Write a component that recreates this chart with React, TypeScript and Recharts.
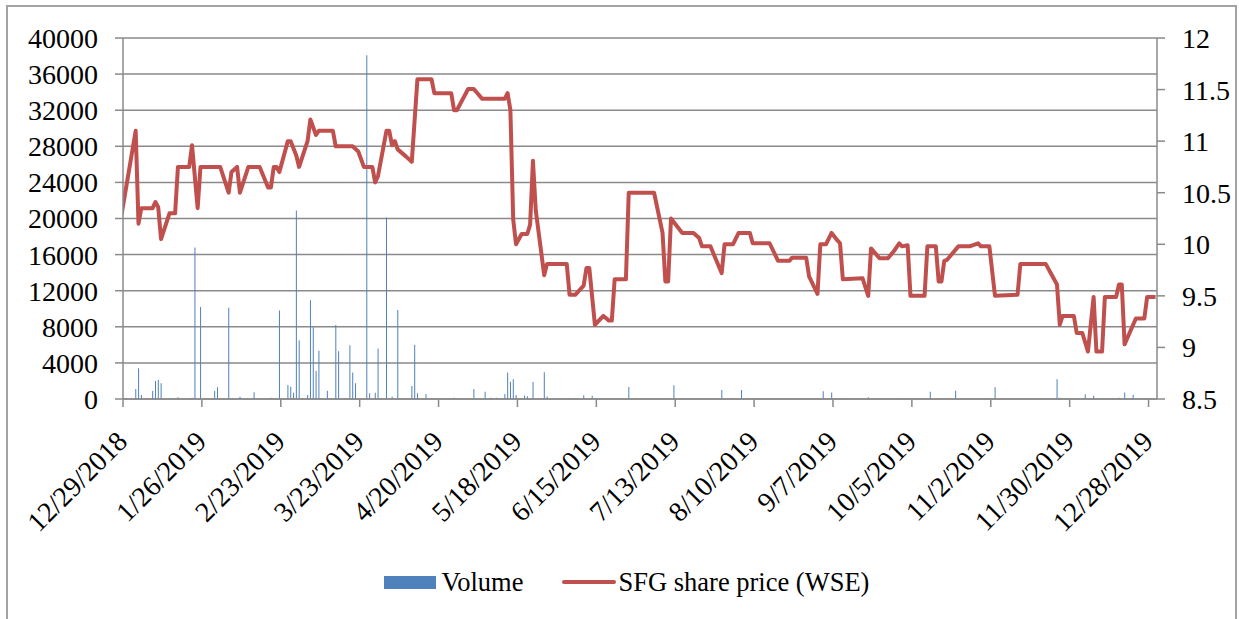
import { ComposedChart, Bar, Line, XAxis, YAxis, CartesianGrid, Legend } from "recharts";

// day index: 0 = 12/29/2018
const PRICE: [number, number][] = [
  [-1, 10.29], [4, 11.1], [5, 10.2], [6, 10.35], [10, 10.35], [11, 10.41], [12, 10.36], [13, 10.05],
  [16, 10.3], [18, 10.3], [19, 10.75], [23, 10.75], [24, 10.96], [26, 10.35], [27, 10.75], [34, 10.75],
  [37, 10.5], [38, 10.7], [40, 10.75], [41, 10.5], [44, 10.75], [48, 10.75], [51, 10.55], [52, 10.55],
  [53, 10.75], [54, 10.75], [55, 10.7], [58, 11.0], [59, 11.0], [61, 10.86], [62, 10.75], [65, 11.0],
  [66, 11.21], [68, 11.06], [69, 11.1], [74, 11.1], [75, 10.95], [81, 10.95], [83, 10.9], [85, 10.75],
  [88, 10.75], [89, 10.6], [90, 10.66], [93, 11.1], [94, 11.1], [95, 10.96], [96, 11.0], [97, 10.92],
  [100, 10.85], [102, 10.8], [104, 11.6], [109, 11.6], [110, 11.465], [116, 11.465], [117, 11.3],
  [118, 11.3], [122, 11.505], [124, 11.505], [127, 11.41], [135, 11.41], [136, 11.465], [137, 11.3],
  [138, 10.24], [139, 10.0], [141, 10.1], [143, 10.1], [144, 10.19], [145, 10.81], [146, 10.33],
  [149, 9.7], [150, 9.81], [157, 9.81], [158, 9.51], [160, 9.51], [163, 9.6], [164, 9.77], [165, 9.77],
  [167, 9.22], [170, 9.305], [172, 9.26], [173, 9.26], [174, 9.66], [178, 9.66], [179, 10.5], [188, 10.5],
  [191, 10.11], [192, 9.64], [193, 9.64], [194, 10.25], [198, 10.11], [202, 10.11], [204, 10.06],
  [205, 9.98], [208, 9.98], [212, 9.72], [213, 10.0], [216, 10.0], [218, 10.11], [222, 10.11],
  [223, 10.01], [229, 10.01], [232, 9.84], [236, 9.84], [237, 9.87], [242, 9.87], [243, 9.69],
  [246, 9.52], [247, 10.0], [249, 10.0], [251, 10.11], [253, 10.04], [254, 10.01], [255, 9.66],
  [262, 9.67], [264, 9.5], [265, 9.96], [268, 9.865], [271, 9.865], [273, 9.93], [275, 10.01],
  [276, 9.98], [278, 9.99], [279, 9.5], [284, 9.5], [285, 9.98], [288, 9.98], [289, 9.64], [290, 9.64],
  [291, 9.84], [292, 9.85], [296, 9.98], [300, 9.98], [303, 10.01], [304, 9.98], [307, 9.98], [309, 9.5],
  [317, 9.51], [318, 9.81], [327, 9.81], [331, 9.61], [332, 9.22], [333, 9.305], [337, 9.305],
  [338, 9.14], [340, 9.14], [342, 8.96], [344, 9.49], [345, 8.96], [347, 8.96], [348, 9.49], [352, 9.49],
  [353, 9.61], [354, 9.61], [355, 9.03], [359, 9.28], [362, 9.28], [363, 9.49], [366, 9.49],
];

const VOLUME: [number, number][] = [
  [4, 1100], [5, 3400], [6, 440], [10, 890], [11, 2000], [12, 2100], [13, 1740], [19, 200], [24, 150],
  [25, 16800], [27, 10200], [32, 890], [33, 1300], [37, 10100], [41, 250], [46, 740], [52, 150],
  [55, 9800], [58, 1550], [59, 1370], [60, 700], [61, 20900], [62, 6500], [65, 440], [66, 10950],
  [67, 7950], [68, 3100], [69, 5350], [72, 920], [75, 8200], [76, 5300], [80, 5950], [81, 2950],
  [82, 1740], [86, 38100], [87, 630], [89, 700], [90, 5600], [93, 20100], [95, 260], [97, 9850],
  [102, 1440], [103, 6000], [104, 630], [107, 550], [117, 150], [124, 1110], [128, 810], [130, 150],
  [132, 150], [135, 550], [136, 2950], [137, 1900], [138, 2200], [139, 440], [142, 380], [143, 300],
  [145, 1870], [149, 2970], [150, 280], [158, 100], [160, 100], [163, 420], [166, 360], [179, 1320],
  [195, 1530], [212, 1000], [219, 1000], [248, 870], [251, 720], [256, 100], [264, 200], [276, 100],
  [286, 810], [295, 910], [309, 1290], [331, 2180], [332, 150], [341, 540], [344, 370], [351, 100],
  [353, 150], [355, 720], [358, 460],
];

const TICKS = [0, 28, 56, 84, 112, 140, 168, 196, 224, 252, 280, 308, 336, 364];
const TICK_LABELS = [
  "12/29/2018", "1/26/2019", "2/23/2019", "3/23/2019", "4/20/2019", "5/18/2019", "6/15/2019",
  "7/13/2019", "8/10/2019", "9/7/2019", "10/5/2019", "11/2/2019", "11/30/2019", "12/28/2019",
];
const VOL_TICKS = [0, 4000, 8000, 12000, 16000, 20000, 24000, 28000, 32000, 36000, 40000];
const PRICE_TICKS = [8.5, 9, 9.5, 10, 10.5, 11, 11.5, 12];

const BLUE = "#4f81bd";
const RED = "#c0504d";
const GRID = "#8a8a8a";
const SERIF = "'Liberation Serif', 'Times New Roman', serif";

const priceMap = new Map(PRICE);
const volMap = new Map(VOLUME);
const days = Array.from(new Set([...PRICE.map((p) => p[0]), ...VOLUME.map((v) => v[0])])).sort((a, b) => a - b);
// each day sits in the middle of its slot
const data = days.map((d) => ({
  x: d + 0.5,
  price: priceMap.has(d) ? priceMap.get(d) : null,
  volume: volMap.has(d) ? volMap.get(d) : null,
}));

const DateTick = (props: any) => {
  const { x, y, payload } = props;
  const ax = x + 6;
  const ay = y + 34;
  return (
    <text x={ax} y={ay} textAnchor="end" transform={`rotate(-45, ${ax}, ${ay})`}
      fontFamily={SERIF} fontSize={28} fill="#000">
      {TICK_LABELS[TICKS.indexOf(payload.value)]}
    </text>
  );
};

const LegendContent = (props: any) => {
  // bars first, like the original legend
  const items = [...(props.payload || [])].sort((a: any, b: any) => (a.type === "line" ? 1 : 0) - (b.type === "line" ? 1 : 0));
  return (
    <div style={{ display: "flex", justifyContent: "center", alignItems: "center", height: 40,
      fontFamily: SERIF, fontSize: 26.5, color: "#000", paddingLeft: 14 }}>
      {items.map((it: any, i: number) => (
        <div key={i} style={{ display: "flex", alignItems: "center", marginLeft: i > 0 ? 38 : 0 }}>
          {it.type === "line" ? (
            <span style={{ display: "inline-block", width: 54, height: 4.5, borderRadius: 2, background: RED, marginRight: 3 }} />
          ) : (
            <span style={{ display: "inline-block", width: 52, height: 13, background: BLUE, marginRight: 6 }} />
          )}
          <span>{it.value}</span>
        </div>
      ))}
    </div>
  );
};

export default function App() {
  return (
    <div style={{ position: "absolute", left: 0, top: 0, width: 1239, height: 619, overflow: "hidden", background: "#fff" }}>
      <div style={{ position: "absolute", left: 6, top: 5, width: 1231, height: 660, border: "2px solid #a3a3a3", boxSizing: "border-box" }} />
      <div style={{ position: "absolute", left: 0, top: 0 }}>
        <ComposedChart width={1239} height={619} data={data} margin={{ top: 38, right: 0, bottom: 60, left: 0 }}>
          <CartesianGrid yAxisId="vol" vertical={false} stroke={GRID} strokeWidth={1.5} />
          <XAxis dataKey="x" type="number" domain={[0, 367]} allowDataOverflow ticks={TICKS} interval={0}
            height={120} tickSize={8} tick={<DateTick />}
            axisLine={{ stroke: GRID, strokeWidth: 1.5 }} tickLine={{ stroke: GRID, strokeWidth: 1.5 }} />
          <YAxis yAxisId="vol" orientation="left" width={123} domain={[0, 40000]} ticks={VOL_TICKS} interval={0}
            tickSize={8} tickMargin={17} tick={{ fill: "#000", fontSize: 28, fontFamily: SERIF }}
            axisLine={{ stroke: GRID, strokeWidth: 1.5 }} tickLine={{ stroke: GRID, strokeWidth: 1.5 }} />
          <YAxis yAxisId="price" orientation="right" width={82} domain={[8.5, 12]} ticks={PRICE_TICKS} interval={0}
            tickSize={8} tickMargin={17} tick={{ fill: "#000", fontSize: 28, fontFamily: SERIF }}
            axisLine={{ stroke: GRID, strokeWidth: 1.5 }} tickLine={{ stroke: GRID, strokeWidth: 1.5 }} />
          <Legend verticalAlign="bottom" height={40} content={<LegendContent />} wrapperStyle={{ bottom: 17 }} />
          <Bar yAxisId="vol" dataKey="volume" name="Volume" fill={BLUE} barSize={1} isAnimationActive={false} />
          <Line yAxisId="price" dataKey="price" name="SFG share price (WSE)" type="linear" stroke={RED}
            strokeWidth={4} strokeLinejoin="round" dot={false} activeDot={false} connectNulls
            isAnimationActive={false} />
        </ComposedChart>
      </div>
    </div>
  );
}
